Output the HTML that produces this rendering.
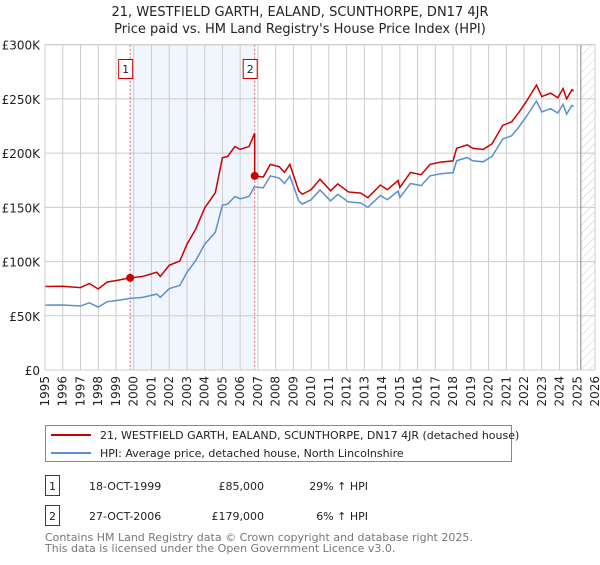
<!DOCTYPE html>
<html><head><meta charset="utf-8"><style>
body{margin:0;background:#fff;font-family:"Liberation Sans","DejaVu Sans",sans-serif;}
svg text{font-family:"DejaVu Sans","Liberation Sans",sans-serif;}
</style></head><body>
<svg id="c" width="600" height="560" xmlns="http://www.w3.org/2000/svg">
<defs><pattern id="hatch" width="6" height="6" patternUnits="userSpaceOnUse" patternTransform="rotate(45)"><line x1="0" y1="0" x2="0" y2="6" stroke="#ccc" stroke-width="1"/></pattern></defs>
<text x="300" y="16" text-anchor="middle" font-size="13" fill="#222">21, WESTFIELD GARTH, EALAND, SCUNTHORPE, DN17 4JR</text>
<text x="300" y="33" text-anchor="middle" font-size="13" fill="#222">Price paid vs. HM Land Registry's House Price Index (HPI)</text>
<g id="plot"></g>
<g>
<rect x="45.5" y="425.5" width="466" height="36" fill="#fff" stroke="#888"/>
<line x1="51" y1="435" x2="91" y2="435" stroke="#cc0000" stroke-width="2"/>
<text x="100" y="439" font-size="11" fill="#222">21, WESTFIELD GARTH, EALAND, SCUNTHORPE, DN17 4JR (detached house)</text>
<line x1="51" y1="453" x2="91" y2="453" stroke="#5b8fd0" stroke-width="2"/>
<text x="100" y="457" font-size="11" fill="#222">HPI: Average price, detached house, North Lincolnshire</text>
</g>
<g font-size="11" fill="#222">
<rect x="45.5" y="475.5" width="14" height="20" fill="#fff" stroke="#cc0000"/>
<text x="52.5" y="490" text-anchor="middle">1</text>
<text x="89" y="490">18-OCT-1999</text>
<text x="264" y="490" text-anchor="end">£85,000</text>
<text x="368" y="490" text-anchor="end">29% ↑ HPI</text>
<rect x="45.5" y="505.5" width="14" height="20" fill="#fff" stroke="#cc0000"/>
<text x="52.5" y="520" text-anchor="middle">2</text>
<text x="89" y="520">27-OCT-2006</text>
<text x="264" y="520" text-anchor="end">£179,000</text>
<text x="368" y="520" text-anchor="end">6% ↑ HPI</text>
</g>
<text x="45" y="541" font-size="11" fill="#777">Contains HM Land Registry data © Crown copyright and database right 2025.</text>
<text x="45" y="552" font-size="11" fill="#777">This data is licensed under the Open Government Licence v3.0.</text>
</svg>
<script>
const hpiYears=[1995,1996,1997,1997.5,1998,1998.5,1999,1999.8,2000.5,2001.3,2001.5,2002,2002.6,2003,2003.5,2004,2004.6,2005,2005.3,2005.7,2006,2006.5,2006.8,2007.3,2007.7,2008.2,2008.5,2008.8,2009.3,2009.5,2010,2010.5,2011.1,2011.5,2012.1,2012.8,2013.2,2013.9,2014.3,2014.9,2015.0,2015.6,2016.2,2016.7,2017.3,2018.0,2018.2,2018.8,2019.1,2019.7,2020.2,2020.8,2021.3,2021.7,2022.1,2022.7,2023.0,2023.5,2023.9,2024.2,2024.4,2024.7,2024.8];
const hpiValues=[59800,60000,59000,62000,58000,63000,64000,66000,67000,70000,67000,75000,78000,90000,101000,116000,127000,152000,153000,160000,158000,160000,169000,168000,179000,177000,172000,179000,156000,153000,157000,166000,156000,162000,155000,154000,150000,161000,157000,165000,159000,172000,170000,179000,181000,182000,193000,196000,193000,192000,197000,213000,216000,224000,233000,248000,238000,241000,237000,245000,236000,244000,243000];
const saleYears=[1999.8,2006.82];
const salePrices=[85000,179000];
const saleLabels=["1","2"];
const xTicks=[1995,1996,1997,1998,1999,2000,2001,2002,2003,2004,2005,2006,2007,2008,2009,2010,2011,2012,2013,2014,2015,2016,2017,2018,2019,2020,2021,2022,2023,2024,2025,2026];
const yTicks=[0,50000,100000,150000,200000,250000,300000];
const yTickLabels=["£0","£50K","£100K","£150K","£200K","£250K","£300K"];
const X0=45,X1=595,Y0=370,Y1=44.7;
const xS=y=>X0+(y-1995)/(2026-1995)*(X1-X0);
const yS=v=>Y0-v/300000*(Y0-Y1);
const NS="http://www.w3.org/2000/svg";
const g=document.getElementById('plot');
function mk(t,a){const e=document.createElementNS(NS,t);for(const k in a)e.setAttribute(k,a[k]);g.appendChild(e);return e;}
function hpiAt(t){for(let i=0;i<hpiYears.length-1;i++){if(t>=hpiYears[i]&&t<=hpiYears[i+1]){const f=(t-hpiYears[i])/(hpiYears[i+1]-hpiYears[i]);return hpiValues[i]+f*(hpiValues[i+1]-hpiValues[i]);}}return hpiValues[hpiValues.length-1];}
let e=mk('rect',{x:xS(saleYears[0]),y:Y1,width:xS(saleYears[1])-xS(saleYears[0]),height:Y0-Y1,fill:'#eef3fc',opacity:0.8});


e=mk('rect',{x:xS(2025.2),y:Y1,width:X1-xS(2025.2),height:Y0-Y1,fill:'url(#hatch)'});


xTicks.forEach(t=>{
 const l=mk('line',{x1:xS(t),x2:xS(t),y1:Y1,y2:Y0,stroke:'#ccc','stroke-width':1});
 
 
 const tx=mk('text',{x:0,y:0,'font-size':12,fill:'#222','text-anchor':'end',transform:`translate(${xS(t)+4},376) rotate(-90)`});
 tx.textContent=t;
 
 
});
yTicks.forEach((v,i)=>{
 const l=mk('line',{x1:X0,x2:X1,y1:yS(v),y2:yS(v),stroke:'#ccc','stroke-width':1});
 
 
 const tx=mk('text',{x:40,y:yS(v)+5,'font-size':12,fill:'#222','text-anchor':'end'});
 tx.textContent=yTickLabels[i];
 
 
});
e=mk('line',{x1:xS(2025.2),x2:xS(2025.2),y1:Y1,y2:Y0,stroke:'#999','stroke-width':1.2});


saleYears.forEach((t,i)=>{
 const l=mk('line',{x1:xS(t),x2:xS(t),y1:Y1,y2:Y0,stroke:'#e06060','stroke-width':1,'stroke-dasharray':'2,2'});
 
 
});
e=mk('polyline',{points:hpiYears.map((t,i)=>xS(t)+','+yS(hpiValues[i])).join(' '),fill:'none',stroke:'#5b8fd0','stroke-width':1.5});


const r0=salePrices[0]/hpiAt(saleYears[0]),r1=salePrices[1]/hpiAt(saleYears[1]);
const pts=[];
hpiYears.forEach((t,i)=>{if(t<saleYears[1])pts.push([t,hpiValues[i]*r0]);});
pts.push([saleYears[1],hpiAt(saleYears[1])*r0]);
pts.push([saleYears[1],salePrices[1]]);
hpiYears.forEach((t,i)=>{if(t>saleYears[1])pts.push([t,hpiValues[i]*r1]);});
e=mk('polyline',{points:pts.map(p=>xS(p[0])+','+yS(p[1])).join(' '),fill:'none',stroke:'#cc0000','stroke-width':1.5});


saleYears.forEach((t,i)=>{
 const c=mk('circle',{cx:xS(t),cy:yS(salePrices[i]),r:4,fill:'#cc0000'});
 
 
 const b=mk('rect',{x:xS(t)-11.5,y:59.5,width:14,height:19,fill:'#fff',stroke:'#cc0000'});
 
 
 const tx=mk('text',{x:xS(t)-4.5,y:73,'font-size':11,fill:'#222','text-anchor':'middle'});
 tx.textContent=saleLabels[i];
 
 
});
e=mk('rect',{x:X0,y:Y1,width:X1-X0,height:Y0-Y1,fill:'none',stroke:'#ccc'});


</script>
</body></html>
